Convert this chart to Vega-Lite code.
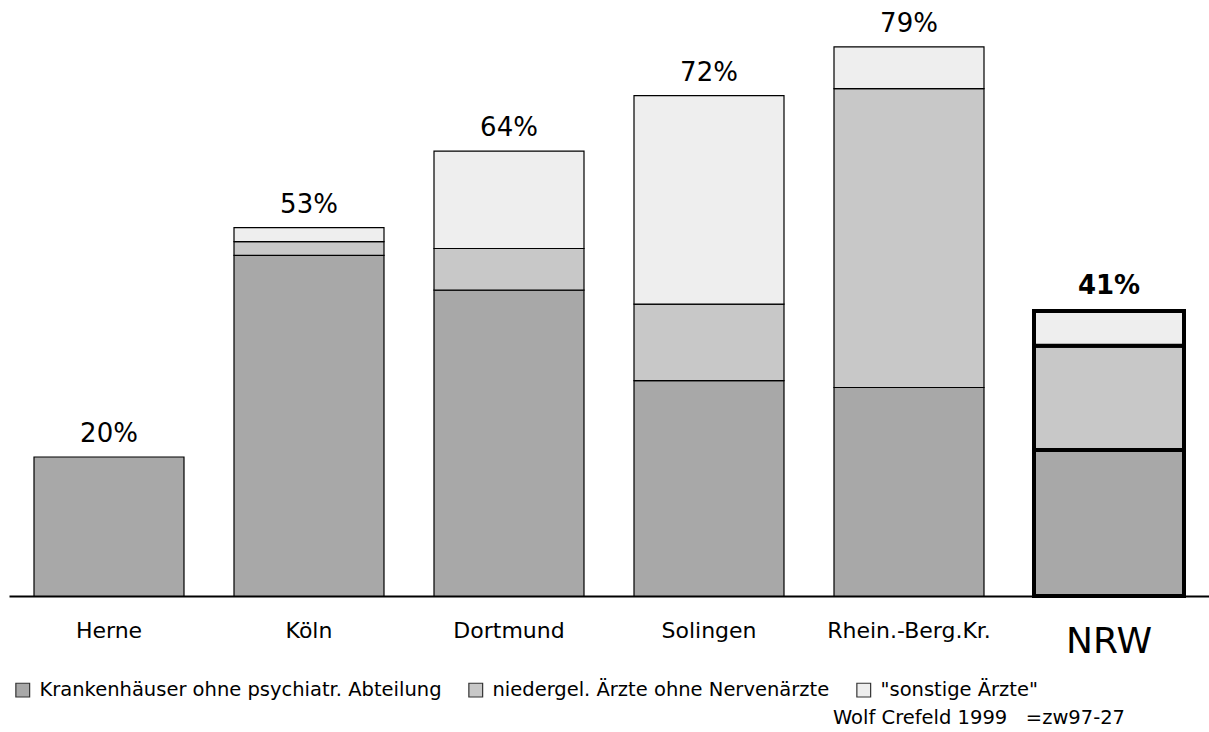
{
  "$schema": "https://vega.github.io/schema/vega-lite/v6.json",
  "width": 1200,
  "height": 556,
  "autosize": "none",
  "padding": {"left": 9, "top": 40, "right": 0, "bottom": 136},
  "background": "white",
  "config": {"view": {"stroke": null}, "font": "DejaVu Sans"},
  "title": {
    "text": "Wolf Crefeld 1999\u00a0\u00a0\u00a0=zw97-27",
    "orient": "bottom",
    "anchor": "end",
    "fontSize": 19.5,
    "fontWeight": "normal",
    "font": "DejaVu Sans",
    "color": "black",
    "dx": -84,
    "offset": 9
  },
  "datasets": {
    "segments": [
      {"region": "Herne", "category": "Krankenhäuser ohne psychiatr. Abteilung", "rank": 1, "value": 20},
      {"region": "Köln", "category": "Krankenhäuser ohne psychiatr. Abteilung", "rank": 1, "value": 49},
      {"region": "Köln", "category": "niedergel. Ärzte ohne Nervenärzte", "rank": 2, "value": 2},
      {"region": "Köln", "category": "\"sonstige Ärzte\"", "rank": 3, "value": 2},
      {"region": "Dortmund", "category": "Krankenhäuser ohne psychiatr. Abteilung", "rank": 1, "value": 44},
      {"region": "Dortmund", "category": "niedergel. Ärzte ohne Nervenärzte", "rank": 2, "value": 6},
      {"region": "Dortmund", "category": "\"sonstige Ärzte\"", "rank": 3, "value": 14},
      {"region": "Solingen", "category": "Krankenhäuser ohne psychiatr. Abteilung", "rank": 1, "value": 31},
      {"region": "Solingen", "category": "niedergel. Ärzte ohne Nervenärzte", "rank": 2, "value": 11},
      {"region": "Solingen", "category": "\"sonstige Ärzte\"", "rank": 3, "value": 30},
      {"region": "Rhein.-Berg.Kr.", "category": "Krankenhäuser ohne psychiatr. Abteilung", "rank": 1, "value": 30},
      {"region": "Rhein.-Berg.Kr.", "category": "niedergel. Ärzte ohne Nervenärzte", "rank": 2, "value": 43},
      {"region": "Rhein.-Berg.Kr.", "category": "\"sonstige Ärzte\"", "rank": 3, "value": 6},
      {"region": "NRW", "category": "Krankenhäuser ohne psychiatr. Abteilung", "rank": 1, "value": 21},
      {"region": "NRW", "category": "niedergel. Ärzte ohne Nervenärzte", "rank": 2, "value": 15},
      {"region": "NRW", "category": "\"sonstige Ärzte\"", "rank": 3, "value": 5}
    ],
    "totals": [
      {"region": "Herne", "total": 20, "label": "20%"},
      {"region": "Köln", "total": 53, "label": "53%"},
      {"region": "Dortmund", "total": 64, "label": "64%"},
      {"region": "Solingen", "total": 72, "label": "72%"},
      {"region": "Rhein.-Berg.Kr.", "total": 79, "label": "79%"},
      {"region": "NRW", "total": 41, "label": "41%"}
    ]
  },
  "encoding": {
    "x": {
      "field": "region",
      "type": "nominal",
      "sort": ["Herne", "Köln", "Dortmund", "Solingen", "Rhein.-Berg.Kr.", "NRW"],
      "scale": {"paddingInner": 0.25, "paddingOuter": 0.125},
      "axis": {
        "title": null,
        "labelAngle": 0,
        "ticks": false,
        "domainColor": "black",
        "domainWidth": 2,
        "labelColor": "black",
        "labelFont": "DejaVu Sans",
        "labelBaseline": "alphabetic",
        "labelFontSize": {"condition": {"test": "datum.value === 'NRW'", "value": 36}, "value": 22},
        "labelPadding": {"condition": {"test": "datum.value === 'NRW'", "value": 56}, "value": 41}
      }
    }
  },
  "layer": [
    {
      "data": {"name": "segments"},
      "mark": {"type": "bar", "stroke": "black", "strokeJoin": "miter"},
      "encoding": {
        "y": {
          "field": "value",
          "type": "quantitative",
          "stack": "zero",
          "scale": {"domain": [0, 80], "nice": false},
          "axis": null
        },
        "color": {
          "field": "category",
          "type": "nominal",
          "sort": ["Krankenhäuser ohne psychiatr. Abteilung", "niedergel. Ärzte ohne Nervenärzte", "\"sonstige Ärzte\""],
          "scale": {
            "domain": ["Krankenhäuser ohne psychiatr. Abteilung", "niedergel. Ärzte ohne Nervenärzte", "\"sonstige Ärzte\""],
            "range": ["#a8a8a8", "#c8c8c8", "#eeeeee"]
          },
          "legend": {
            "title": null,
            "orient": "none",
            "direction": "horizontal",
            "legendX": 4,
            "legendY": 640,
            "symbolType": "square",
            "symbolSize": 190,
            "symbolStrokeColor": "#333",
            "symbolStrokeWidth": 1.2,
            "labelFontSize": 19.5,
            "labelLimit": 0,
            "labelFont": "DejaVu Sans",
            "labelColor": "black",
            "columnPadding": 24,
            "labelOffset": 7
          }
        },
        "order": {"field": "rank", "type": "quantitative", "sort": "ascending"},
        "strokeWidth": {"condition": {"test": "datum.region === 'NRW'", "value": 4}, "value": 1.2}
      }
    },
    {
      "data": {"name": "totals"},
      "transform": [{"filter": "datum.region !== 'NRW'"}],
      "mark": {"type": "text", "baseline": "alphabetic", "dy": -15, "fontSize": 26, "font": "DejaVu Sans", "color": "black"},
      "encoding": {
        "y": {"field": "total", "type": "quantitative"},
        "text": {"field": "label"}
      }
    },
    {
      "data": {"name": "totals"},
      "transform": [{"filter": "datum.region === 'NRW'"}],
      "mark": {"type": "text", "baseline": "alphabetic", "dy": -17, "fontSize": 26, "fontWeight": "bold", "font": "DejaVu Sans", "color": "black"},
      "encoding": {
        "y": {"field": "total", "type": "quantitative"},
        "text": {"field": "label"}
      }
    }
  ]
}
